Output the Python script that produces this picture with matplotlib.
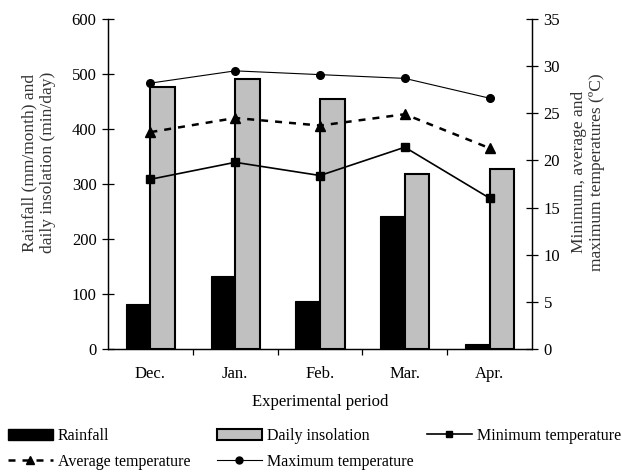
import matplotlib.pyplot as plt
import numpy as np
from matplotlib.patches import Patch
from matplotlib.lines import Line2D

plt.rcParams['font.family'] = ['Liberation Serif', 'DejaVu Serif']

months = ["Dec.", "Jan.", "Feb.", "Mar.", "Apr."]
rainfall = [81, 133, 87, 242, 10]
insolation = [477, 490, 455, 318, 328]
temp_min = [18.0, 19.8, 18.4, 21.4, 16.0]
temp_avg = [23.0, 24.5, 23.7, 24.9, 21.3]
temp_max = [28.2, 29.5, 29.1, 28.7, 26.6]

x = np.arange(len(months))
w = 0.29
avg_dash = (0, (2.8, 2.8))

fig = plt.figure(figsize=(6.22, 4.75), dpi=100)
ax = fig.add_axes([108 / 622, 1 - 349 / 475, 424 / 622, 330 / 475])
ax2 = ax.twinx()

ax.bar(x - w / 2, rainfall, w, color='black', edgecolor='black', linewidth=0.8)
ax.bar(x + w / 2, insolation, w, color='#c0c0c0', edgecolor='black', linewidth=1.5)

ax2.plot(x, temp_max, color='black', linewidth=0.8, marker='o', markersize=5.5)
ax2.plot(x, temp_avg, color='black', linewidth=1.8, linestyle=avg_dash, marker='^', markersize=6.5)
ax2.plot(x, temp_min, color='black', linewidth=1.2, marker='s', markersize=6)

ax.set_xlim(-0.5, 4.5)
ax.set_ylim(0, 600)
ax2.set_ylim(0, 35)
ax.set_yticks(range(0, 601, 100))
ax2.set_yticks(range(0, 36, 5))
ax.set_xticks(x)
ax.set_xticklabels(months)
ax.set_xticks(np.arange(0.5, 4, 1), minor=True)

for a in (ax, ax2):
    a.spines['top'].set_visible(False)
    for s in a.spines.values():
        s.set_linewidth(0.9)
    a.tick_params(labelsize=12)
ax.tick_params(axis='y', direction='inout', length=8.5, width=0.9, pad=4)
ax2.tick_params(axis='y', direction='inout', length=8.5, width=0.9, pad=4)
ax.tick_params(axis='x', which='major', length=0, pad=12)
ax.tick_params(axis='x', which='minor', direction='out', length=4, width=0.9)
ax2.set_zorder(ax.get_zorder() + 1)
ax2.patch.set_visible(False)

ax.set_xlabel("Experimental period", fontsize=12, labelpad=9)
ax.set_ylabel("Rainfall (mm/month) and\ndaily insolation (min/day)", fontsize=12.5, color='#333333')
ax2.set_ylabel("Minimum, average and\nmaximum temperatures (\u00baC)", fontsize=12.5, color='#333333')
ax.yaxis.set_label_coords(-0.123, 0.565)
ax2.yaxis.set_label_coords(1.092, 0.536)

# legend laid out as three single-column legends, like the original
legend_cols = [
    ([Patch(facecolor='black', edgecolor='black'),
      Line2D([], [], color='black', linewidth=1.8, linestyle=avg_dash, marker='^', markersize=6)],
     ["Rainfall", "Average temperature"], 8),
    ([Patch(facecolor='#c0c0c0', edgecolor='black', linewidth=1.5),
      Line2D([], [], color='black', linewidth=0.8, marker='o', markersize=5)],
     ["Daily insolation", "Maximum temperature"], 217),
    ([Line2D([], [], color='black', linewidth=1.2, marker='s', markersize=5)],
     ["Minimum temperature"], 427),
]
for handles, labels, px in legend_cols:
    fig.legend(handles, labels, loc='upper left', bbox_to_anchor=(px / 622, 1 - 428 / 475),
               frameon=False, fontsize=11.5, handlelength=2.8, handletextpad=0.3,
               labelspacing=0.6, borderaxespad=0, borderpad=0)

fig.savefig("out.png", dpi=100)
